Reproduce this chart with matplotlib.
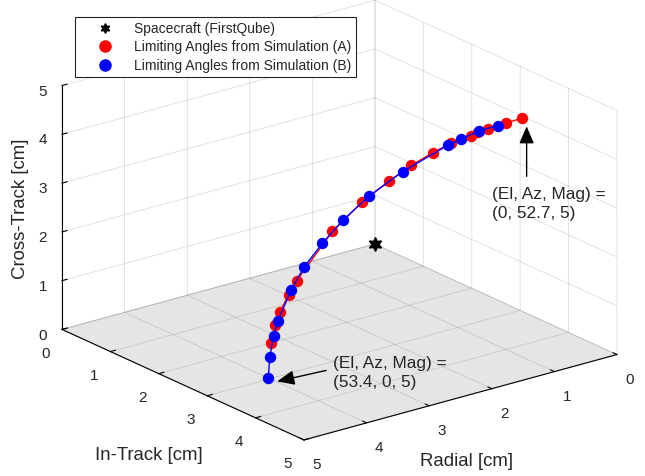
import numpy as np
import matplotlib
matplotlib.use("Agg")
import matplotlib.pyplot as plt
from matplotlib.lines import Line2D
from matplotlib.text import OffsetFrom
from mpl_toolkits.mplot3d import proj3d

plt.rcParams["font.family"] = ["Liberation Sans", "DejaVu Sans"]

# Limiting-angle points (cm)
red_radial = [3.98, 3.92, 3.84, 3.70, 3.57, 3.00, 2.52, 2.10, 1.74, 1.40, 1.11, 0.79, 0.67, 0.51, 0.23, 0.00]
red_intrack = [3.00, 3.00, 3.00, 3.00, 3.00, 3.00, 3.00, 3.00, 3.00, 3.00, 3.00, 3.00, 3.00, 3.00, 3.00, 3.03]
red_cross = [0.72, 1.07, 1.31, 1.61, 1.86, 2.67, 3.11, 3.38, 3.58, 3.72, 3.81, 3.86, 3.89, 3.90, 3.92, 3.95]

blue_radial = [4.01, 4.00, 3.94, 3.87, 3.66, 3.45, 3.16, 2.83, 2.41, 1.88, 1.15, 0.94, 0.65, 0.36]
blue_intrack = [2.98, 3.00, 3.00, 3.00, 3.00, 3.00, 3.00, 3.00, 3.00, 3.00, 3.00, 3.00, 3.00, 3.00]
blue_cross = [0.00, 0.44, 0.86, 1.14, 1.70, 2.10, 2.48, 2.84, 3.19, 3.50, 3.79, 3.84, 3.91, 3.91]

craft = (0.0, 0.0, 0.0)
ticks = [0, 1, 2, 3, 4, 5]

TXT = "#262626"
GRID = (0.15, 0.15, 0.15, 0.15)

fig = plt.figure(figsize=(6.45, 4.76), dpi=100)
ax = fig.add_axes([0.1594, 0.0405, 0.7146, 0.9683], projection="3d",
                  proj_type="ortho", computed_zorder=False)
ax.view_init(elev=20.67, azim=52.29)
ax.set_box_aspect((1, 1, 0.659), zoom=1.3)

ax.set_xlim(0, 5)
ax.set_ylim(0, 5)
ax.set_zlim(0, 5)
ax.set_xticks(ticks)
ax.set_yticks(ticks)
ax.set_zticks(ticks)

for axis, pane in [(ax.xaxis, "white"), (ax.yaxis, "white"), (ax.zaxis, "#e5e5e5")]:
    axis.set_pane_color(pane)
    axis._axinfo["grid"]["color"] = GRID
    axis._axinfo["grid"]["linewidth"] = 0.6
    axis._axinfo["axisline"]["color"] = TXT
    axis._axinfo["axisline"]["linewidth"] = 0.9
    axis._axinfo["tick"]["color"] = TXT
    axis._axinfo["tick"]["inward_factor"] = 0.0
    axis._axinfo["tick"]["outward_factor"] = 0.2
ax.tick_params(labelsize=11, labelcolor=TXT)
ax.xaxis.set_tick_params(pad=1.0)
ax.yaxis.set_tick_params(pad=1.0)
ax.zaxis.set_tick_params(pad=-2)

ms = 7.2
ax.plot(red_radial, red_intrack, red_cross, color="red", lw=1.0)
ax.plot(red_radial, red_intrack, red_cross, ls="none", marker="o", ms=ms,
        color="red", mec="red")
ax.plot(blue_radial, blue_intrack, blue_cross, color="blue", lw=1.0)
ax.plot(blue_radial, blue_intrack, blue_cross, ls="none", marker="o", ms=ms,
        color="blue", mec="blue")
ax.plot([craft[0]], [craft[1]], [craft[2]], ls="none", marker=(6, 1, 0),
        ms=10, color="black")

# axis titles kept horizontal like the original
fig.text(149 / 645, 1 - 455 / 476, "In-Track [cm]", fontsize=13.4, color=TXT,
         ha="center", va="center")
fig.text(467 / 645, 1 - 461 / 476, "Radial [cm]", fontsize=13.4, color=TXT,
         ha="center", va="center")
fig.text(21 / 645, 1 - 209 / 476, "Cross-Track [cm]", fontsize=13.4, color=TXT,
         ha="center", va="center", rotation=90)

# annotations tied to the two end points
M = ax.get_proj()
tx, ty, _ = proj3d.proj_transform(red_radial[-1], red_intrack[-1], red_cross[-1], M)
bx, by, _ = proj3d.proj_transform(blue_radial[0], blue_intrack[0], blue_cross[0], M)
top_ref = OffsetFrom(ax.transData, (tx, ty), unit="pixels")
bot_ref = OffsetFrom(ax.transData, (bx, by), unit="pixels")

arrow = dict(arrowstyle="-|>,head_length=0.75,head_width=0.32", color="black",
             lw=1.0, shrinkA=0, shrinkB=0, mutation_scale=14)
ax.annotate("", xy=(5, -8), xycoords=top_ref, xytext=(5, -58),
            textcoords=top_ref, arrowprops=arrow)
ax.annotate("(El, Az, Mag) =\n(0, 52.7, 5)", xy=(-30, -69), xycoords=top_ref,
            ha="left", va="top", fontsize=12.4, color=TXT, linespacing=1.3)
ax.annotate("", xy=(9, -3), xycoords=bot_ref, xytext=(58, 8),
            textcoords=bot_ref, arrowprops=arrow)
ax.annotate("(El, Az, Mag) =\n(53.4, 0, 5)", xy=(65, 22), xycoords=bot_ref,
            ha="left", va="top", fontsize=12.4, color=TXT, linespacing=1.3)

handles = [
    Line2D([], [], ls="none", marker=(6, 1, 0), ms=7, color="black"),
    Line2D([], [], ls="none", marker="o", ms=8, color="red"),
    Line2D([], [], ls="none", marker="o", ms=8, color="blue"),
]
labels = ["Spacecraft (FirstQube)", "Limiting Angles from Simulation (A)",
          "Limiting Angles from Simulation (B)"]
leg = ax.legend(handles, labels, loc="upper left", fontsize=10,
                bbox_to_anchor=(75 / 645, 1 - 17 / 476), bbox_transform=fig.transFigure,
                borderaxespad=0, fancybox=False, edgecolor="#262626",
                framealpha=1, handlelength=3.6, handletextpad=0.35,
                labelspacing=0.33, borderpad=0.33)
leg.get_frame().set_linewidth(0.8)
for t in leg.get_texts():
    t.set_color(TXT)

fig.savefig("out.png", dpi=100, facecolor="white")
